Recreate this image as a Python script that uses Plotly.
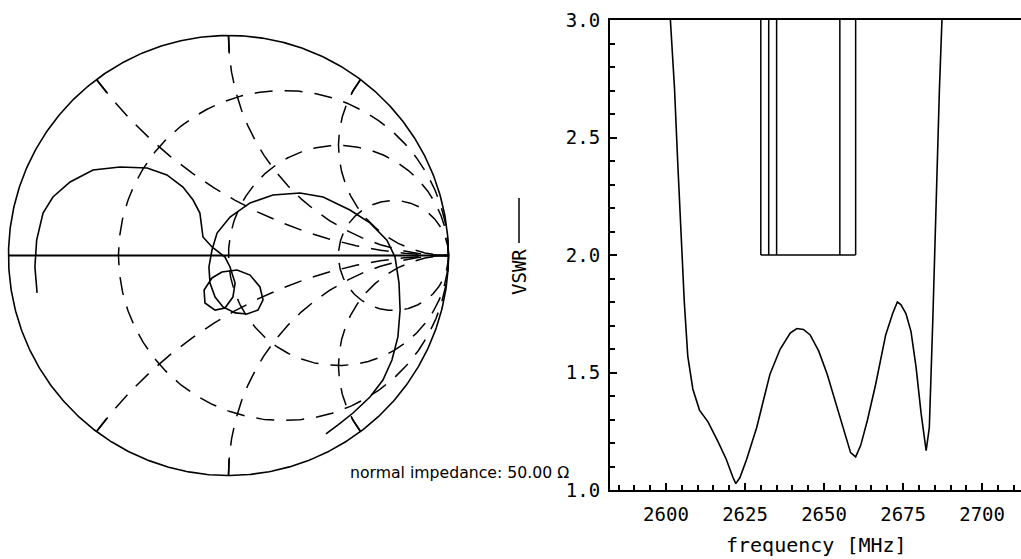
import numpy as np
import plotly.graph_objects as go

# ---------------- data ----------------
freq_mhz = [2601.4, 2602.7, 2603.7, 2604.8, 2605.8, 2606.9, 2608.5, 2610.6, 2613.3, 2616.5,
            2619.1, 2621.2, 2622.1, 2623.4, 2625.5, 2628.7, 2632.9, 2636.1, 2639.3, 2641.4,
            2643.5, 2645.6, 2648.3, 2651.0, 2653.6, 2656.3, 2658.4, 2660.0, 2661.6, 2663.7,
            2666.3, 2669.5, 2671.7, 2673.2, 2674.3, 2675.9, 2677.5, 2679.1, 2680.7, 2682.3,
            2683.3, 2684.4, 2685.5, 2686.5, 2687.3]
vswr = [3.00, 2.71, 2.40, 2.10, 1.80, 1.57, 1.43, 1.34, 1.29, 1.205,
        1.13, 1.053, 1.027, 1.053, 1.13, 1.266, 1.493, 1.599, 1.668, 1.687,
        1.683, 1.660, 1.592, 1.493, 1.372, 1.250, 1.159, 1.141, 1.190, 1.296,
        1.448, 1.660, 1.751, 1.800, 1.789, 1.751, 1.675, 1.524, 1.326, 1.167,
        1.266, 1.721, 2.252, 2.707, 3.00]

mask_freqs = [2630, 2632.5, 2635, 2655, 2660]
mask_low = 2.0
mask_high = 3.0

gamma_re = [-0.870, -0.880, -0.872, -0.843, -0.798, -0.720, -0.616, -0.493, -0.370, -0.280,
            -0.207, -0.161, -0.130, -0.116, -0.075, -0.016, 0.007, 0.030, 0.020, -0.016,
            -0.061, -0.107, -0.111, -0.075, -0.030, 0.039, 0.098, 0.143, 0.157, 0.134,
            0.084, 0.030, -0.025, -0.061, -0.084, -0.089, -0.075, -0.052, 0.007, 0.098,
            0.202, 0.325, 0.430, 0.552, 0.643, 0.720, 0.757, 0.775, 0.780, 0.770,
            0.743, 0.702, 0.643, 0.566, 0.498, 0.443]
gamma_im = [-0.170, -0.052, 0.070, 0.193, 0.266, 0.334, 0.389, 0.402, 0.398, 0.366,
            0.311, 0.252, 0.193, 0.084, 0.039, -0.007, -0.052, -0.125, -0.189, -0.239,
            -0.248, -0.216, -0.157, -0.102, -0.075, -0.066, -0.089, -0.143, -0.202, -0.248,
            -0.266, -0.261, -0.234, -0.189, -0.125, -0.052, 0.025, 0.102, 0.175, 0.239,
            0.275, 0.284, 0.266, 0.207, 0.148, 0.070, -0.007, -0.125, -0.248, -0.370,
            -0.475, -0.566, -0.643, -0.716, -0.770, -0.811]

r_circles = [1/3, 1, 3]
x_arcs = [0.5, 1, 2, -0.5, -1, -2]
z0_label = "normal impedance: 50.00 \u03a9"

# ---------------- layout geometry ----------------
W, H = 1021, 559
cx, cy, R = 228.5, 255.5, 220.0
pad = 1.02
MONO = "DejaVu Sans Mono"
BLK = "black"
DASH = "18px,12px"

fig = go.Figure()

def smith(xs, ys, dash=None, width=1.5):
    fig.add_trace(go.Scatter(x=xs, y=ys, xaxis="x2", yaxis="y2", mode="lines",
                             line=dict(color=BLK, width=width, dash=dash),
                             hoverinfo="skip", showlegend=False))

# resistance circles
for r in r_circles:
    th = np.linspace(0, 2 * np.pi, 500)
    c, rad = r / (1 + r), 1 / (1 + r)
    smith(c + rad * np.cos(th), rad * np.sin(th), dash=DASH)

# reactance arcs + small solid ticks at rim
for xv in x_arcs:
    ax = abs(xv)
    s = np.sign(xv)
    px, py = (ax ** 2 - 1) / (ax ** 2 + 1), 2 * ax / (ax ** 2 + 1)
    a0 = np.arctan2(py - 1 / ax, px - 1) % (2 * np.pi)
    a1 = 1.5 * np.pi
    th = np.linspace(a0, a1, 500)
    xs = 1 + np.cos(th) / ax
    ys = 1 / ax + np.sin(th) / ax
    smith(xs, s * ys, dash=DASH)
    tt = np.linspace(a0, a0 + 0.075 * ax, 20)
    smith(1 + np.cos(tt) / ax, s * (1 / ax + np.sin(tt) / ax), width=1.6)

# outer circle and real axis
th = np.linspace(0, 2 * np.pi, 600)
smith(np.cos(th), np.sin(th), width=1.6)
smith([-1, 1], [0, 0], width=2)

# measured reflection curve
smith(gamma_re, gamma_im, width=1.6)

# ---------------- VSWR plot ----------------
mx, my = [], []
for f in mask_freqs:
    mx += [f, f, None]
    my += [mask_low, mask_high, None]
mx += [mask_freqs[0], mask_freqs[-1]]
my += [mask_low, mask_low]
fig.add_trace(go.Scatter(x=mx, y=my, mode="lines", line=dict(color=BLK, width=1.5),
                         hoverinfo="skip", showlegend=False))
fig.add_trace(go.Scatter(x=freq_mhz, y=vswr, mode="lines", line=dict(color=BLK, width=1.6),
                         hoverinfo="skip", showlegend=False))

def px2fx(p):
    return p / W

def py2fy(p):
    return 1 - p / H

fig.update_layout(
    width=W, height=H, margin=dict(l=0, r=0, t=0, b=0, pad=0, autoexpand=False),
    paper_bgcolor="white", plot_bgcolor="white", showlegend=False,
    xaxis=dict(domain=[px2fx(610), 1.0], range=[2582.3, 2712.3], anchor="y",
               automargin=False,
               showgrid=False, zeroline=False, showline=True, linecolor=BLK, linewidth=2,
               mirror=True, ticks="inside", tick0=2600, dtick=25, ticklen=7, tickwidth=1.5,
               tickcolor=BLK, minor=dict(dtick=5, tick0=2600, ticks="inside", ticklen=5,
                                         tickwidth=1.5, tickcolor=BLK),
               tickfont=dict(family=MONO, size=19, color=BLK), ticklabelstandoff=6),
    yaxis=dict(domain=[py2fy(490), py2fy(20)], range=[1, 3], anchor="x",
               automargin=False,
               showgrid=False, zeroline=False, showline=True, linecolor=BLK, linewidth=2,
               ticks="inside", tick0=1, dtick=0.5, ticklen=7, tickwidth=1.5, tickcolor=BLK,
               tickformat=".1f",
               minor=dict(dtick=0.1, ticks="inside", ticklen=5, tickwidth=1.5, tickcolor=BLK),
               tickfont=dict(family=MONO, size=19, color=BLK), ticklabelstandoff=4),
    xaxis2=dict(domain=[px2fx(cx - R * pad), px2fx(cx + R * pad)], range=[-pad, pad],
                visible=False, anchor="y2", automargin=False),
    yaxis2=dict(domain=[py2fy(cy + R * pad), py2fy(cy - R * pad)], range=[-pad, pad],
                visible=False, anchor="x2", automargin=False),
    annotations=[
        dict(text=z0_label, xref="paper", yref="paper", x=px2fx(348), y=py2fy(472),
             xanchor="left", yanchor="middle", showarrow=False,
             font=dict(family="DejaVu Sans", size=15.7, color=BLK)),
        dict(text="frequency [MHz]", xref="paper", yref="paper", x=px2fx(816), y=py2fy(545),
             xanchor="center", yanchor="middle", showarrow=False,
             font=dict(family=MONO, size=20, color=BLK)),
        dict(text="VSWR", xref="paper", yref="paper", x=px2fx(519), y=py2fy(272),
             xanchor="center", yanchor="middle", showarrow=False, textangle=-90,
             font=dict(family=MONO, size=19, color=BLK)),
    ],
    shapes=[dict(type="line", xref="paper", yref="paper", x0=px2fx(519), x1=px2fx(519),
                 y0=py2fy(243), y1=py2fy(198), line=dict(color=BLK, width=1.5))],
)

fig.write_html("out.html", config={"displayModeBar": False},
               post_script="document.body.style.margin='0';document.body.style.overflow='hidden';")
